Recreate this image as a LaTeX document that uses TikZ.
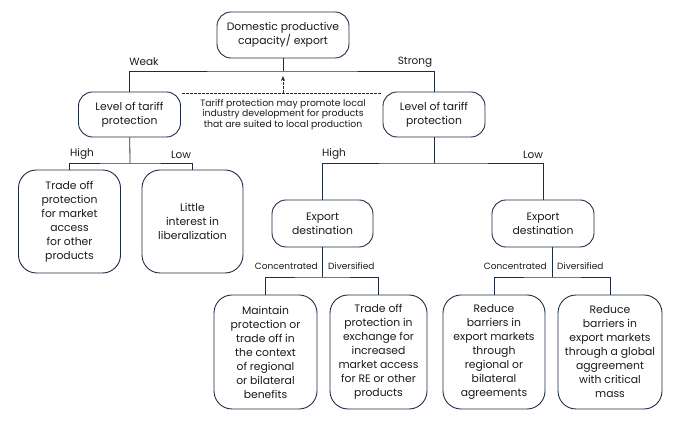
\documentclass[tikz,border=0pt]{standalone}
\usepackage{fontspec}
\setmainfont{Poppins}
\usepackage{tikz}
\usetikzlibrary{arrows.meta}
\usetikzlibrary{positioning}
\usetikzlibrary{calc}
\definecolor{linec}{HTML}{1E2B45}
\definecolor{textc}{HTML}{1A1A1A}
\tikzset{
	box/.style={draw=linec, line width=0.9pt, align=center, text=textc,
		font=\fontsize{10.8}{14}\selectfont, inner sep=0pt},
	smallbox/.style={box, rounded corners=14pt, minimum width=102pt, minimum height=46pt},
	tallbox/.style={box, rounded corners=18pt, minimum width=102pt},
	branch/.style={text=textc, font=\fontsize{10.5}{12}\selectfont, inner sep=0pt},
	subbranch/.style={text=textc, font=\fontsize{9}{10}\selectfont, inner sep=0pt},
	link/.style={draw=linec, line width=0.8pt},
	hint/.style={draw=linec, line width=0.7pt, dashed, dash pattern=on 2.5pt off 1.5pt},
}

\begin{document}
\begin{tikzpicture}[x=1pt, y=-1pt]
		\useasboundingbox (0,0) rectangle (681,427);
		% Root
		\node [smallbox, minimum width=132pt] (root) at (283,35) {Domestic productive\\capacity/ export};
		\coordinate (jRoot) at (283,71);
		\node [smallbox, minimum height=45pt] (tariffW) at (129.5,114.5) {Level of tariff\\protection};
		\node [smallbox, minimum height=45pt] (tariffS) at (434,114.5) {Level of tariff\\protection};
		\draw [link] (root) -- (jRoot);
		\draw [link] (tariffW.north) |- (jRoot) -| (tariffS.north);
		\node [branch] (weak) at (144,62) {Weak};
		\node [branch] (strong) at (415,62) {Strong};
		% Dashed note
		\coordinate (dashL) at (182,93);
		\coordinate (dashR) at (382,93);
		\coordinate (dashM) at (283,93);
		\coordinate (tip) at (283,76);
		\draw [hint] (dashL) -- (dashR);
		\draw [hint, -{Stealth[length=5pt,width=4pt]}] (dashM) -- (tip);
		\node [text=textc, align=center, font=\fontsize{9.3}{10.8}\selectfont, inner sep=0pt] (note) at (283,114.5)
			{Tariff protection may promote local\\industry development for products\\that are suited to local production};
		% Weak side
		\coordinate (jW) at (130,163);
		\node [tallbox, minimum height=103pt] (tradeoff) at (69.5,221.5) {Trade off\\protection\\for market\\access\\for other\\products};
		\node [tallbox, minimum height=103pt, minimum width=101pt] (little) at (192.5,221.5) {Little\\interest in\\liberalization};
		\draw [link] (tariffW) -- (jW);
		\draw [link] (tradeoff.north) |- (jW) -| (little.north);
		\node [branch] (highW) at (82,154) {High};
		\node [branch] (lowW) at (181,155) {Low};
		% Strong side
		\coordinate (jS) at (434,163);
		\node [smallbox, minimum height=47pt, minimum width=101pt] (destH) at (322.5,223.5) {Export\\destination};
		\node [smallbox, minimum height=47pt] (destL) at (543,223.5) {Export\\destination};
		\draw [link] (tariffS) -- (jS);
		\draw [link] (destH.north) |- (jS) -| (destL.north);
		\node [branch] (highS) at (334,154) {High};
		\node [branch] (lowS) at (533,155) {Low};
		% Export destination, high protection
		\coordinate (jH) at (322.5,277);
		\node [tallbox, minimum height=114pt, minimum width=103pt] (maintain) at (265.5,352) {Maintain\\protection or\\trade off in\\the context\\of regional\\or bilateral\\benefits};
		\node [tallbox, minimum height=114pt, minimum width=97pt] (exchange) at (378.5,352) {Trade off\\protection in\\exchange for\\increased\\market access\\for RE or other\\products};
		\draw [link] (destH) -- (jH);
		\draw [link] (maintain.north) |- (jH) -| (exchange.north);
		\node [subbranch, anchor=east] (concH) at (318,266) {Concentrated};
		\node [subbranch, anchor=west] (divH) at (328,266) {Diversified};
		% Export destination, low protection
		\coordinate (jL) at (552,277);
		\node [tallbox, minimum height=114pt] (regional) at (494,352) {Reduce\\barriers in\\export markets\\through\\regional or\\bilateral\\agreements};
		\node [tallbox, minimum height=114pt, minimum width=104pt] (global) at (610,352) {Reduce\\barriers in\\export markets\\through a global\\aggreement\\with critical\\mass};
		\draw [link] (destL.south -| jL) -- (jL);
		\draw [link] (regional.north) |- (jL) -| (global.north);
		\node [subbranch, anchor=east] (concL) at (547,266) {Concentrated};
		\node [subbranch, anchor=west] (divL) at (557,266) {Diversified};
\end{tikzpicture}
\end{document}
